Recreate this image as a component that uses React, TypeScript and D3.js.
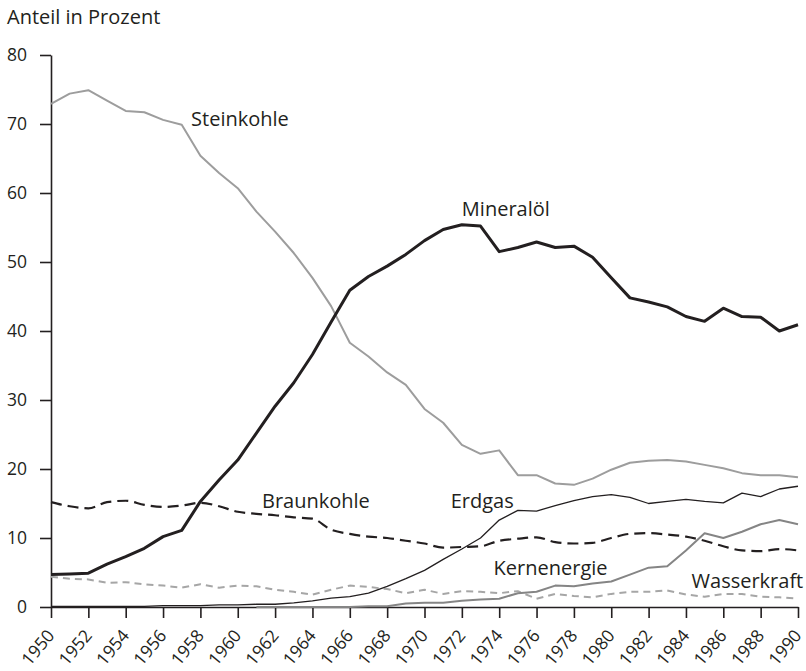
import React, { useEffect, useRef } from 'react';
import * as d3 from 'd3';

// Anteil am Primärenergieverbrauch, 1950-1990
const years = [
  1950, 1951, 1952, 1953, 1954, 1955, 1956, 1957, 1958, 1959,
  1960, 1961, 1962, 1963, 1964, 1965, 1966, 1967, 1968, 1969,
  1970, 1971, 1972, 1973, 1974, 1975, 1976, 1977, 1978, 1979,
  1980, 1981, 1982, 1983, 1984, 1985, 1986, 1987, 1988, 1989,
  1990,
];

const steinkohle = [
  72.9, 74.4, 74.9, 73.4, 71.9, 71.7, 70.6, 69.9, 65.4, 62.9,
  60.7, 57.3, 54.4, 51.3, 47.7, 43.6, 38.3, 36.3, 34.0, 32.2,
  28.7, 26.7, 23.5, 22.2, 22.7, 19.1, 19.1, 17.9, 17.7, 18.6,
  19.9, 20.9, 21.2, 21.3, 21.1, 20.6, 20.1, 19.4, 19.1, 19.1,
  18.8,
];

const mineraloel = [
  4.7, 4.8, 4.9, 6.2, 7.3, 8.5, 10.2, 11.1, 15.3, 18.4,
  21.3, 25.2, 29.1, 32.5, 36.6, 41.3, 45.9, 47.9, 49.4, 51.1,
  53.1, 54.7, 55.4, 55.2, 51.5, 52.1, 52.9, 52.1, 52.3, 50.7,
  47.7, 44.8, 44.2, 43.5, 42.1, 41.4, 43.3, 42.1, 42.0, 40.0,
  40.9,
];

const braunkohle = [
  15.2, 14.6, 14.3, 15.2, 15.4, 14.8, 14.5, 14.7, 15.1, 14.6,
  13.8, 13.5, 13.3, 13.0, 12.8, 11.2, 10.6, 10.2, 10.0, 9.6,
  9.2, 8.6, 8.7, 8.8, 9.6, 9.9, 10.1, 9.4, 9.2, 9.3,
  10.0, 10.6, 10.7, 10.5, 10.2, 9.6, 8.8, 8.2, 8.1, 8.4,
  8.2,
];

const erdgas = [
  0.1, 0.1, 0.1, 0.1, 0.1, 0.1, 0.2, 0.2, 0.2, 0.3,
  0.3, 0.4, 0.4, 0.6, 0.9, 1.3, 1.5, 2.0, 3.0, 4.1,
  5.3, 6.9, 8.4, 10.0, 12.6, 14.0, 13.9, 14.7, 15.4, 16.0,
  16.3, 15.9, 15.0, 15.3, 15.6, 15.3, 15.1, 16.5, 16.0, 17.1,
  17.5,
];

const kernenergie = [
  null, null, null, null, null, null, null, null, null, null,
  null, 0.0, 0.0, 0.0, 0.0, 0.0, 0.0, 0.1, 0.1, 0.5,
  0.6, 0.6, 0.9, 1.1, 1.2, 2.0, 2.2, 3.1, 3.0, 3.4,
  3.7, 4.7, 5.7, 5.9, 8.2, 10.7, 10.0, 10.9, 12.0, 12.6,
  12.0,
];

const wasserkraft = [
  4.4, 4.1, 4.0, 3.5, 3.6, 3.3, 3.1, 2.8, 3.3, 2.8,
  3.1, 3.0, 2.5, 2.2, 1.8, 2.5, 3.1, 2.9, 2.6, 2.0,
  2.5, 1.9, 2.3, 2.2, 2.0, 2.3, 1.2, 1.9, 1.6, 1.4,
  1.9, 2.2, 2.2, 2.4, 1.8, 1.5, 1.9, 1.9, 1.5, 1.4,
  1.2,
];

const yTicks = [0, 10, 20, 30, 40, 50, 60, 70, 80];
const xTicks = [
  1950, 1952, 1954, 1956, 1958, 1960, 1962, 1964, 1966, 1968, 1970,
  1972, 1974, 1976, 1978, 1980, 1982, 1984, 1986, 1988, 1990,
];

const FONT = '"Open Sans", "DejaVu Sans", sans-serif';
const INK = '#231f20';

const App = () => {
  const svgRef = useRef(null);

  useEffect(() => {
    const svg = d3.select(svgRef.current);
    svg.selectAll('*').remove();

    const x = d3.scaleLinear().domain([1950, 1990]).range([51, 798]);
    const y = d3.scaleLinear().domain([0, 80]).range([607, 55]);

    // y axis
    const yAxis = svg.append('g')
      .attr('transform', 'translate(51,0)')
      .call(d3.axisLeft(y).tickValues(yTicks).tickSize(11).tickSizeOuter(0).tickPadding(13));
    yAxis.select('.domain').attr('stroke', INK).attr('stroke-width', 1.6);
    yAxis.selectAll('.tick line').attr('stroke', INK).attr('stroke-width', 1.6);
    yAxis.selectAll('.tick text')
      .attr('fill', INK)
      .attr('font-family', FONT)
      .attr('font-size', 17.5);

    // x axis, labels slanted
    const xAxis = svg.append('g')
      .attr('transform', 'translate(0,607)')
      .call(d3.axisBottom(x).tickValues(xTicks).tickSize(11).tickSizeOuter(0).tickFormat(d3.format('d')));
    xAxis.select('.domain').attr('stroke', INK).attr('stroke-width', 1.6);
    xAxis.selectAll('.tick line').attr('stroke', INK).attr('stroke-width', 1.6);
    xAxis.selectAll('.tick text')
      .attr('fill', INK)
      .attr('font-family', FONT)
      .attr('font-size', 17.5)
      .attr('text-anchor', 'end')
      .attr('x', 0)
      .attr('y', 0)
      .attr('dy', null)
      .attr('transform', 'translate(4,29) rotate(-50)');

    const series = [
      { values: wasserkraft, stroke: '#a6a6a6', width: 2, dash: '7,5', curve: d3.curveLinear },
      { values: kernenergie, stroke: '#858585', width: 2, dash: null, curve: d3.curveLinear },
      { values: erdgas, stroke: INK, width: 1.3, dash: null, curve: d3.curveLinear },
      { values: braunkohle, stroke: INK, width: 2.2, dash: '11,6', curve: d3.curveMonotoneX },
      { values: steinkohle, stroke: '#9d9d9d', width: 2, dash: null, curve: d3.curveLinear },
      { values: mineraloel, stroke: INK, width: 3, dash: null, curve: d3.curveLinear },
    ];

    series.forEach((s) => {
      const line = d3.line()
        .defined((d) => d != null)
        .x((d, i) => x(years[i]))
        .y((d) => y(d))
        .curve(s.curve);
      svg.append('path')
        .datum(s.values)
        .attr('fill', 'none')
        .attr('stroke', s.stroke)
        .attr('stroke-width', s.width)
        .attr('stroke-linejoin', 'round')
        .attr('stroke-dasharray', s.dash)
        .attr('d', line);
    });

    const labels = [
      { text: 'Steinkohle', x: 1957.5, y: 69.7 },
      { text: 'Mineralöl', x: 1972.0, y: 56.7 },
      { text: 'Braunkohle', x: 1961.3, y: 14.4 },
      { text: 'Erdgas', x: 1971.4, y: 14.4 },
      { text: 'Kernenergie', x: 1973.7, y: 4.7 },
      { text: 'Wasserkraft', x: 1984.3, y: 2.8 },
    ];
    svg.append('g')
      .selectAll('text')
      .data(labels)
      .join('text')
      .attr('x', (d) => x(d.x))
      .attr('y', (d) => y(d.y))
      .attr('fill', INK)
      .attr('font-family', FONT)
      .attr('font-size', 20)
      .text((d) => d.text);

    svg.append('text')
      .attr('x', 7)
      .attr('y', 24)
      .attr('fill', INK)
      .attr('font-family', FONT)
      .attr('font-size', 20)
      .text('Anteil in Prozent');
  }, []);

  return (
    <div style={{ position: 'absolute', left: 0, top: 0 }}>
      <svg ref={svgRef} width={806} height={671} style={{ display: 'block', background: '#fff' }} />
    </div>
  );
};

export default App;
